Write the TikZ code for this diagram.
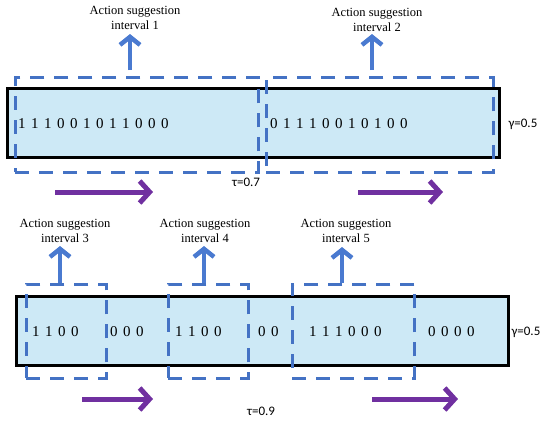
\documentclass[tikz,border=0pt]{standalone}
\usepackage{fontspec}
\setmainfont{Liberation Serif}
\newfontfamily\labfont{Carlito}
\usetikzlibrary{arrows.meta}
\definecolor{barfill}{HTML}{CDE9F6}
\definecolor{dashblue}{HTML}{4472C4}
\definecolor{arrblue}{HTML}{4A7AD0}
\definecolor{arrpurple}{HTML}{7030A0}
\tikzset{
  bar/.style={draw=black, line width=2.5pt, fill=barfill, inner sep=0pt, anchor=north west},
  dbox/.style={draw=dashblue, line width=2.6pt, dash pattern=on 14pt off 10pt, inner sep=0pt, anchor=north west},
  bits/.style={font={\fontsize{15}{18}\selectfont\spaceskip=5.5pt}, anchor=west, inner sep=0pt},
  albl/.style={font=\fontsize{12.5}{15}\selectfont, align=center, inner sep=0pt},
  glbl/.style={font=\labfont\fontsize{13}{16}\selectfont, inner sep=0pt},
  uparr/.style={draw=arrblue, line width=4.5pt, -{Straight Barb[length=8pt,width=20pt,line width=4.5pt]}},
  rarr/.style={draw=arrpurple, line width=5pt, -{Straight Barb[length=10pt,width=22pt,line width=5pt]}},
}
\begin{document}
\begin{tikzpicture}[x=1pt,y=-1pt]
\useasboundingbox (0,0) rectangle (550,424);
% top bar
\node[bar, minimum width=492pt, minimum height=69pt] (bar1) at (6,87) {};
\node[dbox, minimum width=243pt, minimum height=95pt] (d1) at (14,76) {};
\node[dbox, minimum width=227pt, minimum height=95pt] (d2) at (265,76) {};
\node[bits] (b1) at (18,124) {1 1 1 0 0 1 0 1 1 0 0 0};
\node[bits] (b2) at (270,124) {0 1 1 1 0 0 1 0 1 0 0};
\node[glbl] (g1) at (523,124) {γ=0.5};
\node[glbl] (t1) at (246,182) {τ=0.7};
\node[albl] (l1) at (135,18) {Action suggestion\\interval 1};
\node[albl] (l2) at (377,20) {Action suggestion\\interval 2};
\coordinate (a1s) at (130,70); \coordinate (a1e) at (130,34);
\coordinate (a2s) at (372,70); \coordinate (a2e) at (372,34);
\draw[uparr] (a1s) -- (a1e);
\draw[uparr] (a2s) -- (a2e);
\coordinate (p1s) at (55,192); \coordinate (p1e) at (153,192);
\coordinate (p2s) at (358,192); \coordinate (p2e) at (443,192);
\draw[rarr] (p1s) -- (p1e);
\draw[rarr] (p2s) -- (p2e);
% bottom bar
\node[bar, minimum width=492pt, minimum height=69pt] (bar2) at (15,295) {};
\node[dbox, minimum width=80pt, minimum height=94pt] (d3) at (25,283) {};
\node[dbox, minimum width=80pt, minimum height=94pt] (d4) at (167,283) {};
\node[dbox, minimum width=122pt, minimum height=94pt] (d5) at (291,283) {};
\node[bits] (c1) at (32,332) {1 1 0 0};
\node[bits] (c2) at (110,332) {0 0 0};
\node[bits] (c3) at (175,332) {1 1 0 0};
\node[bits] (c4) at (258,332) {0 0};
\node[bits] (c5) at (309,332) {1 1 1 0 0 0};
\node[bits] (c6) at (428,332) {0 0 0 0};
\node[glbl] (g2) at (526,332) {γ=0.5};
\node[glbl] (t2) at (261,411) {τ=0.9};
\node[albl] (l3) at (65,231) {Action suggestion\\interval 3};
\node[albl] (l4) at (205,231) {Action suggestion\\interval 4};
\node[albl] (l5) at (346,231) {Action suggestion\\interval 5};
\coordinate (a3s) at (60,283); \coordinate (a3e) at (60,246);
\coordinate (a4s) at (204,283); \coordinate (a4e) at (204,246);
\coordinate (a5s) at (342,283); \coordinate (a5e) at (342,247);
\draw[uparr] (a3s) -- (a3e);
\draw[uparr] (a4s) -- (a4e);
\draw[uparr] (a5s) -- (a5e);
\coordinate (p3s) at (82,399); \coordinate (p3e) at (153,399);
\coordinate (p4s) at (372,399); \coordinate (p4e) at (458,399);
\draw[rarr] (p3s) -- (p3e);
\draw[rarr] (p4s) -- (p4e);
\end{tikzpicture}
\end{document}
